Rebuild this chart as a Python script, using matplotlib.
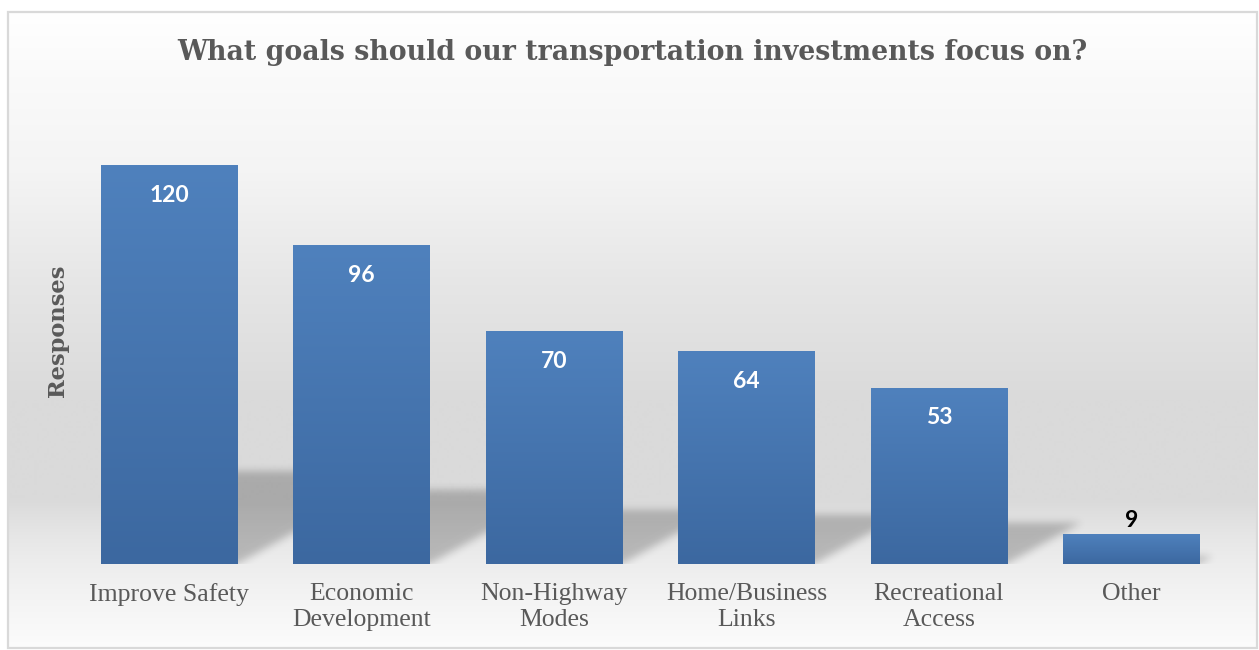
import numpy as np
import matplotlib
matplotlib.use("Agg")
import matplotlib.pyplot as plt
from matplotlib.patches import Rectangle
from matplotlib.transforms import offset_copy

# --- data -------------------------------------------------------------
categories = ["Improve Safety", "Economic\nDevelopment", "Non-Highway\nModes",
              "Home/Business\nLinks", "Recreational\nAccess", "Other"]
responses = [120, 96, 70, 64, 53, 9]

title = "What goals should our transportation investments focus on?"
y_label = "Responses"

# --- styling ------------------------------------------------------------
W_PX, H_PX, DPI = 1259, 650, 100
TEXT_GREY = "#595959"
BAR_TOP = np.array([79, 129, 189]) / 255
BAR_BOTTOM = np.array([60, 104, 160]) / 255
HEAD_SERIF = ["DejaVu Serif", "Liberation Serif"]
SERIF = ["Liberation Serif", "DejaVu Serif"]
LABEL_SANS = ["Lato", "DejaVu Sans"]

fig = plt.figure(figsize=(W_PX / DPI, H_PX / DPI), dpi=DPI)
fig.patch.set_facecolor("white")

# chart-area backdrop: vertical grey gradient inside a thin frame
bg = fig.add_axes([0, 0, 1, 1], zorder=0)
bg.set_xlim(0, W_PX)
bg.set_ylim(H_PX, 0)
bg.axis("off")
frame_l, frame_t, frame_r, frame_b = 8, 12, 1257, 648
rows = np.arange(frame_t, frame_b + 1)
stop_y = [12, 60, 173, 285, 400, 500, 535, 563, 600, 648]
stop_v = [255, 251, 244, 230, 218, 218, 230, 237, 244, 252]
col = np.interp(rows, stop_y, stop_v) / 255.0
grad = np.repeat(col[:, None], 2, axis=1)
bg.imshow(np.dstack([grad, grad, grad]), extent=(frame_l, frame_r, frame_b, frame_t),
          aspect="auto", interpolation="bilinear")
bg.add_patch(Rectangle((frame_l, frame_t), frame_r - frame_l, frame_b - frame_t,
                       fill=False, edgecolor="#d9d9d9", linewidth=1.6))

# --- main plot ----------------------------------------------------------
ax_left, ax_bottom = 72.8 / W_PX, (H_PX - 563.5) / H_PX
ax_width, ax_height = 1154.8 / W_PX, 464.4 / H_PX
ax = fig.add_axes([ax_left, ax_bottom, ax_width, ax_height], zorder=1)
ax.patch.set_alpha(0)

x = np.arange(len(categories))
bar_width = 0.71
xlo, xhi = -0.5, len(categories) - 0.5
ymax = 140

bars = ax.bar(x, responses, width=bar_width, color="none", edgecolor="none", zorder=3)

# perspective floor shadows cast up and to the right of each bar (soft edges)
SHADOW_RATIO = 0.233
SLANT = 0.031
gw, gh = 1160, 470
gx = np.linspace(xlo, xhi, gw)
gy = np.linspace(0, ymax, gh)
GX, GY = np.meshgrid(gx, gy)
mask = np.zeros((gh, gw))
for b in bars:
    h = b.get_height()
    x0, x1 = b.get_x(), b.get_x() + b.get_width()
    sh = SHADOW_RATIO * h
    dx = SLANT * sh
    inside = (GY <= sh) & (GX >= x0 + 0.06) & (GX <= x1 + dx * (GY / sh))
    mask[inside] = 1.0

sigma = 4.0
k = np.arange(-12, 13)
kern = np.exp(-0.5 * (k / sigma) ** 2)
kern /= kern.sum()
mask = np.apply_along_axis(lambda r: np.convolve(r, kern, mode="same"), 1, mask)
mask = np.apply_along_axis(lambda c: np.convolve(c, kern, mode="same"), 0, mask)
shadow = np.zeros((gh, gw, 4))
shadow[..., 3] = 0.22 * mask
ax.imshow(shadow, extent=(xlo, xhi, 0, ymax), origin="lower", aspect="auto",
          interpolation="bilinear", zorder=2)

# gradient fill inside each bar (lighter top, deeper bottom)
ramp = np.linspace(0, 1, 256)[:, None]
bar_rgb = BAR_BOTTOM[None, None, :] * (1 - ramp[..., None]) + BAR_TOP[None, None, :] * ramp[..., None]
bar_img = np.repeat(bar_rgb, 2, axis=1)
for b in bars:
    ax.imshow(bar_img, extent=(b.get_x(), b.get_x() + b.get_width(), 0, b.get_height()),
              origin="lower", aspect="auto", interpolation="bilinear", zorder=3)

# value labels
for b, v in zip(bars, responses):
    cx = b.get_x() + b.get_width() / 2
    if v >= 20:
        tr = offset_copy(ax.transData, fig=fig, x=0, y=-30, units="dots")
        ax.text(cx, v, f"{v}", transform=tr, ha="center", va="center", color="white",
                fontsize=16.5, fontweight="bold", family=LABEL_SANS, zorder=4)
    else:
        tr = offset_copy(ax.transData, fig=fig, x=0, y=13, units="dots")
        ax.text(cx, v, f"{v}", transform=tr, ha="center", va="center", color="black",
                fontsize=16.5, fontweight="bold", family=LABEL_SANS, zorder=4)

ax.set_xlim(xlo, xhi)
ax.set_ylim(0, ymax)
ax.set_xticks(x)
ax.set_xticklabels(categories, fontsize=18.5, color=TEXT_GREY, family=SERIF, linespacing=1.22)
ax.tick_params(axis="x", length=0, pad=14)
ax.set_yticks([])
for s in ax.spines.values():
    s.set_visible(False)

fig.text(632.5 / W_PX, (H_PX - 60) / H_PX, title, ha="center", va="baseline",
         fontsize=19.3, fontweight="bold", color=TEXT_GREY, family=HEAD_SERIF)
fig.text(57.5 / W_PX, (H_PX - 331) / H_PX, y_label, rotation=90, ha="center", va="center",
         fontsize=16.2, fontweight="bold", color=TEXT_GREY, family=HEAD_SERIF)

fig.savefig("out.png", dpi=DPI)
